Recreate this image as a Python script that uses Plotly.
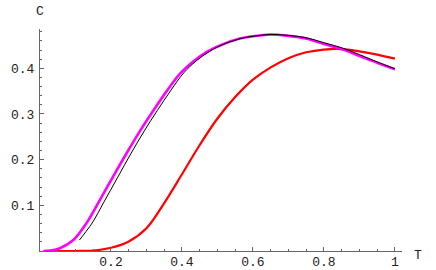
import plotly.graph_objects as go

# Magenta curve (thick)
t_mag = [0.01, 0.03, 0.056, 0.094, 0.131, 0.169, 0.206, 0.244, 0.282, 0.319, 0.357,
         0.394, 0.43, 0.47, 0.507, 0.563, 0.6, 0.65, 0.7, 0.75, 0.8, 0.85, 0.9, 0.95, 1.0]
c_mag = [0.0, 0.001, 0.006, 0.024, 0.061, 0.112, 0.163, 0.214, 0.263, 0.307, 0.350,
         0.388, 0.414, 0.436, 0.450, 0.465, 0.470, 0.474, 0.471, 0.465, 0.453, 0.442, 0.427, 0.412, 0.398]

# Black curve (thin)
t_blk = [0.111, 0.13, 0.15, 0.18, 0.218, 0.256, 0.294, 0.331, 0.369, 0.405, 0.44,
         0.478, 0.512, 0.565, 0.6, 0.65, 0.7, 0.75, 0.8, 0.85, 0.9, 0.95, 1.0]
c_blk = [0.024, 0.043, 0.065, 0.107, 0.160, 0.213, 0.263, 0.308, 0.352, 0.390, 0.416,
         0.437, 0.451, 0.465, 0.470, 0.474, 0.472, 0.467, 0.456, 0.445, 0.430, 0.414, 0.399]

# Red curve
t_red = [0.01, 0.1, 0.15, 0.2, 0.25, 0.3, 0.35, 0.4, 0.45, 0.5, 0.55, 0.6, 0.65,
         0.7, 0.75, 0.8, 0.85, 0.9, 0.95, 1.0]
c_red = [0.0, 0.0, 0.001, 0.007, 0.021, 0.050, 0.105, 0.168, 0.232, 0.290, 0.337, 0.375,
         0.402, 0.422, 0.435, 0.441, 0.442, 0.437, 0.430, 0.421]

x_ticks = [0.2, 0.4, 0.6, 0.8, 1.0]
x_labels = ["0.2", "0.4", "0.6", "0.8", "1"]
y_ticks = [0.1, 0.2, 0.3, 0.4]
y_labels = ["0.1", "0.2", "0.3", "0.4"]
x_minor = [round(0.05 * i, 2) for i in range(1, 21)]
y_minor = [round(0.02 * i, 2) for i in range(1, 25)]

fig = go.Figure()
fig.add_trace(go.Scatter(x=t_red, y=c_red, mode="lines", line=dict(color="#FF0000", width=2.2, shape="spline")))
fig.add_trace(go.Scatter(x=t_mag, y=c_mag, mode="lines", line=dict(color="#FF00FF", width=2.6, shape="spline")))
fig.add_trace(go.Scatter(x=t_blk, y=c_blk, mode="lines", line=dict(color="#000000", width=1, shape="spline")))

font = dict(family="Liberation Mono, Courier New, monospace", size=13, color="#222")
axis_common = dict(showgrid=False, zeroline=False, showline=True, linecolor="#666", linewidth=1,
                   ticks="inside", ticklen=4, tickcolor="#666", tickfont=font, fixedrange=True,
                   automargin=False)

fig.update_layout(
    width=436, height=270,
    margin=dict(l=40, r=34, t=29, b=19),
    paper_bgcolor="white", plot_bgcolor="white",
    showlegend=False,
    xaxis=dict(range=[0, 1.02], tickvals=x_ticks, ticktext=x_labels, ticklabelstandoff=-2,
               minor=dict(tickvals=x_minor, ticks="inside", ticklen=2, tickcolor="#666"),
               **axis_common),
    yaxis=dict(range=[0, 0.486], tickvals=y_ticks, ticktext=y_labels, ticklabelstandoff=2,
               minor=dict(tickvals=y_minor, ticks="inside", ticklen=2, tickcolor="#666"),
               **axis_common),
    annotations=[
        dict(text="C", x=0, y=1.081, xref="paper", yref="paper", showarrow=False,
             font=font, xanchor="center", yanchor="middle"),
        dict(text="T", x=1.044, y=-0.02, xref="paper", yref="paper", showarrow=False,
             font=font, xanchor="center", yanchor="middle"),
    ],
)

fig.write_html("out.html", config={"displayModeBar": False, "staticPlot": True},
               post_script="document.body.style.margin='0';document.body.style.overflow='hidden';")
